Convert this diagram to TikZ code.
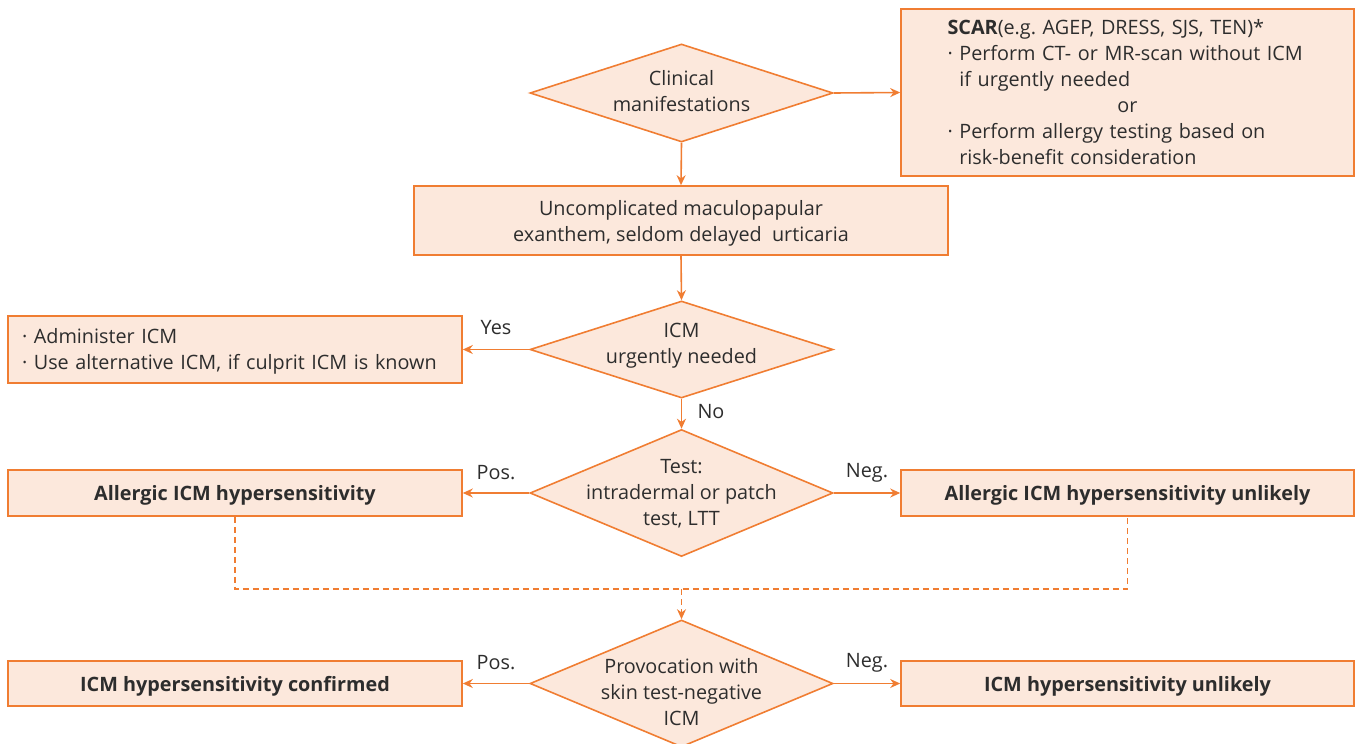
\documentclass[tikz,border=0pt]{standalone}
\usepackage{fontspec}
\setmainfont{Open Sans}
\usepackage{tikz}
\usetikzlibrary{shapes.geometric,arrows.meta}
\definecolor{peach}{RGB}{252,232,220}
\definecolor{tangerine}{RGB}{240,125,50}
\definecolor{inkgrey}{RGB}{45,45,45}
\newcommand{\pt}{\textperiodcentered\ }

\begin{document}
\begin{tikzpicture}[x=1pt, y=-1pt,
    every node/.style={text=inkgrey, font=\fontsize{19.8}{26}\selectfont},
    box/.style={draw=tangerine, fill=peach, line width=1.6pt, rectangle, inner sep=0pt},
    boldbox/.style={box, font=\fontsize{19.8}{26}\selectfont\bfseries},
    dia/.style={draw=tangerine, fill=peach, line width=1.6pt, diamond, inner sep=0pt},
    flow/.style={draw=tangerine, line width=1.6pt, -{Stealth[length=10pt,width=9pt]}},
    dashline/.style={draw=tangerine, line width=1.4pt, dash pattern=on 6pt off 4pt}]
    \useasboundingbox (0,0) rectangle (1355,744);

    % Decision diamonds
    \node[dia, minimum width=303pt, minimum height=98pt] (clin) at (681.5,93) {};
    \node at (clin) [align=center, yshift=2pt] {Clinical\\manifestations};
    \node[dia, minimum width=303pt, minimum height=97pt] (urg) at (681.5,349.5) {};
    \node at (urg) [align=center, yshift=3.5pt] {ICM\\urgently needed};
    \node[dia, minimum width=303pt, minimum height=127pt] (test) at (681.5,493) {};
    \node at (test) [align=center, yshift=-0.5pt] {Test:\\intradermal or patch\\test, LTT};
    \node[dia, minimum width=303pt, minimum height=127pt] (prov) at (681.5,683.5) {};
    \node at (prov) [align=center, yshift=-8.5pt] {Provocation with\\skin test-negative\\ICM};

    % Boxes
    \node[box, minimum width=453pt, minimum height=167pt, text width=360pt, align=left] (scar) at (1127.5,92.5)
        {\textbf{SCAR}(e.g.\ AGEP, DRESS, SJS, TEN)*\\
         \pt Perform CT- or MR-scan without ICM\\
         \hphantom{\pt}if urgently needed\\
         \makebox[\linewidth]{or}\\
         \pt Perform allergy testing based on\\
         \hphantom{\pt}risk-benefit consideration};
    \node[box, minimum width=534pt, minimum height=69pt, align=center] (mpe) at (681,220.5) {};
    \node at (mpe) [align=center, yshift=-2.5pt] {Uncomplicated maculopapular\\exanthem, seldom delayed\ \ urticaria};
    \node[box, minimum width=454pt, minimum height=67pt] (admin) at (235,349.5) {};
    \node at (admin) [text width=430pt, align=left, yshift=-2pt, xshift=2pt]
        {\pt Administer ICM\\\pt Use alternative ICM, if culprit ICM is known};
    \node[boldbox, minimum width=454pt, minimum height=46pt, text depth=-3pt] (allg) at (235,493)
        {Allergic ICM hypersensitivity};
    \node[boldbox, minimum width=453pt, minimum height=46pt, text depth=-3pt] (unlik) at (1127.5,493)
        {Allergic ICM hypersensitivity unlikely};
    \node[boldbox, minimum width=454pt, minimum height=45pt, text depth=-2pt] (conf) at (235,683.5)
        {ICM hypersensitivity confirmed};
    \node[boldbox, minimum width=453pt, minimum height=45pt, text depth=-2pt] (none) at (1127.5,683.5)
        {ICM hypersensitivity unlikely};

    % Connectors
    \draw[flow] (clin.east) -- (scar.west);
    \draw[flow] (clin.south) -- (mpe.north);
    \draw[flow] (mpe.south) -- (urg.north);
    \draw[flow] (urg.west) -- (admin.east);
    \draw[flow] (urg.south) -- (test.north);
    \draw[flow] (test.west) -- (allg.east);
    \draw[flow] (test.east) -- (unlik.west);
    \draw[flow] (prov.west) -- (conf.east);
    \draw[flow] (prov.east) -- (none.west);

    % Dashed merge
    \coordinate (merge) at (681.5,589);
    \draw[dashline] (allg.south) |- (merge) -| (unlik.south);
    \draw[dashline, -{Stealth[length=10pt,width=9pt]}] (merge) -- (prov.north);

    % Branch labels
    \node (yes) at (496,328) {Yes};
    \node (no) at (711,412) {No};
    \node (pos1) at (496,473) {Pos.};
    \node (neg1) at (867,473) {Neg.};
    \node (pos2) at (496,663) {Pos.};
    \node (neg2) at (867,663) {Neg.};
\end{tikzpicture}
\end{document}
